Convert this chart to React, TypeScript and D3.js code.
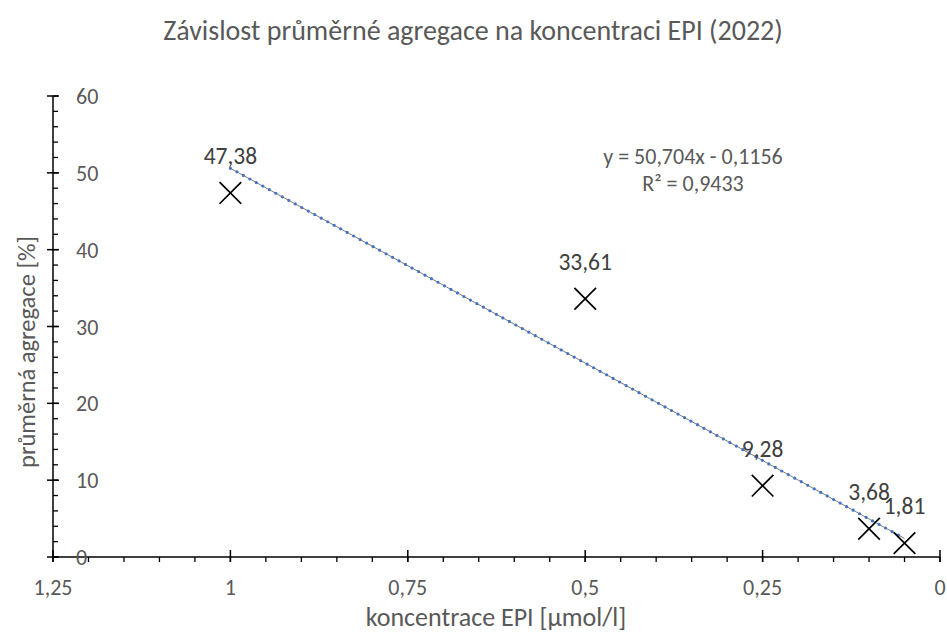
import React from "react";
import * as d3 from "d3";

const xValues = [1, 0.5, 0.25, 0.1, 0.05];
const yValues = [47.38, 33.61, 9.28, 3.68, 1.81];
const dataLabels = ["47,38", "33,61", "9,28", "3,68", "1,81"];
const xTicks = [1.25, 1, 0.75, 0.5, 0.25, 0];
const xTickLabels = ["1,25", "1", "0,75", "0,5", "0,25", "0"];
const yTicks = [0, 10, 20, 30, 40, 50, 60];
const trendSlope = 50.704;
const trendIntercept = -0.1156;
const trendRange = [1, 0.05];

const W = 947, H = 638;
const FONT = "Carlito, Calibri, Lato, 'Open Sans', sans-serif";

export default function App() {
  const x = d3.scaleLinear().domain([1.25, 0]).range([53, 940]);
  const y = d3.scaleLinear().domain([0, 60]).range([557, 96]);
  const minorX = d3.range(0, 1.2501, 0.05).map((v) => +v.toFixed(2));
  const minorY = d3.range(0, 60.01, 2);
  const line = d3.line<number>().x((v) => x(v)).y((v) => y(trendSlope * v + trendIntercept));
  const trend = line(trendRange) || "";
  const gray = "#595959";
  const mid = 23.5;
  return (
    <svg width={W} height={H} style={{ position: "absolute", left: 0, top: 0, background: "#fff" }}>
      <rect width={W} height={H} fill="#fff" />
      <text x={473} y={40} textAnchor="middle" fontFamily={FONT} fontSize={28} fill={gray}>
        Závislost průměrné agregace na koncentraci EPI (2022)
      </text>
      {/* trendline */}
      <path d={trend} stroke="#404040" strokeWidth={0.7} fill="none" />
      <path d={trend} stroke="#4472C4" strokeWidth={3.2} strokeDasharray="0 7.4" strokeLinecap="round" fill="none" />
      {/* axes */}
      <line x1={53} x2={53} y1={y(60)} y2={y(0)} stroke="#000" strokeWidth={1.5} />
      <line x1={53} x2={940} y1={y(0)} y2={y(0)} stroke="#000" strokeWidth={1.5} />
      {minorY.map((v) => (
        <line key={"my" + v} x1={53} x2={58} y1={y(v)} y2={y(v)} stroke="#000" strokeWidth={1.3} />
      ))}
      {yTicks.map((v) => (
        <line key={"My" + v} x1={47} x2={59} y1={y(v)} y2={y(v)} stroke="#000" strokeWidth={1.5} />
      ))}
      {minorX.map((v) => (
        <line key={"mx" + v} x1={x(v)} x2={x(v)} y1={y(0)} y2={y(0) + 5} stroke="#000" strokeWidth={1.3} />
      ))}
      {xTicks.map((v) => (
        <line key={"Mx" + v} x1={x(v)} x2={x(v)} y1={y(0) - 7} y2={y(0) + 5} stroke="#000" strokeWidth={1.5} />
      ))}
      {yTicks.map((v) => (
        <text key={"yl" + v} x={76} y={y(v) + 8} fontFamily={FONT} fontSize={22} fill={gray}>
          {v}
        </text>
      ))}
      {xTicks.map((v, i) => (
        <text key={"xl" + v} x={x(v)} y={595} textAnchor="middle" fontFamily={FONT} fontSize={22} fill={gray}>
          {xTickLabels[i]}
        </text>
      ))}
      {/* markers */}
      {xValues.map((v, i) => {
        const cx = x(v), cy = y(yValues[i]);
        const s = 10.8;
        return (
          <g key={"pt" + i}>
            <line x1={cx - s} y1={cy - s} x2={cx + s} y2={cy + s} stroke="#000" strokeWidth={1.7} />
            <line x1={cx - s} y1={cy + s} x2={cx + s} y2={cy - s} stroke="#000" strokeWidth={1.7} />
          </g>
        );
      })}
      {xValues.map((v, i) => (
        <text key={"dl" + i} x={x(v)} y={y(yValues[i]) - 29} textAnchor="middle" fontFamily={FONT} fontSize={mid} fill="#404040">
          {dataLabels[i]}
        </text>
      ))}
      <text x={693} y={164} textAnchor="middle" fontFamily={FONT} fontSize={22} fill={gray}>
        y = 50,704x - 0,1156
      </text>
      <text x={693} y={191} textAnchor="middle" fontFamily={FONT} fontSize={22} fill={gray}>
        R² = 0,9433
      </text>
      <text x={496} y={626} textAnchor="middle" fontFamily={FONT} fontSize={26} fill={gray}>
        koncentrace EPI [µmol/l]
      </text>
      <text transform={`translate(26,352) rotate(-90)`} dy="0.35em" textAnchor="middle" fontFamily={FONT} fontSize={24.5} fill={gray}>
        průměrná agregace [%]
      </text>
    </svg>
  );
}
